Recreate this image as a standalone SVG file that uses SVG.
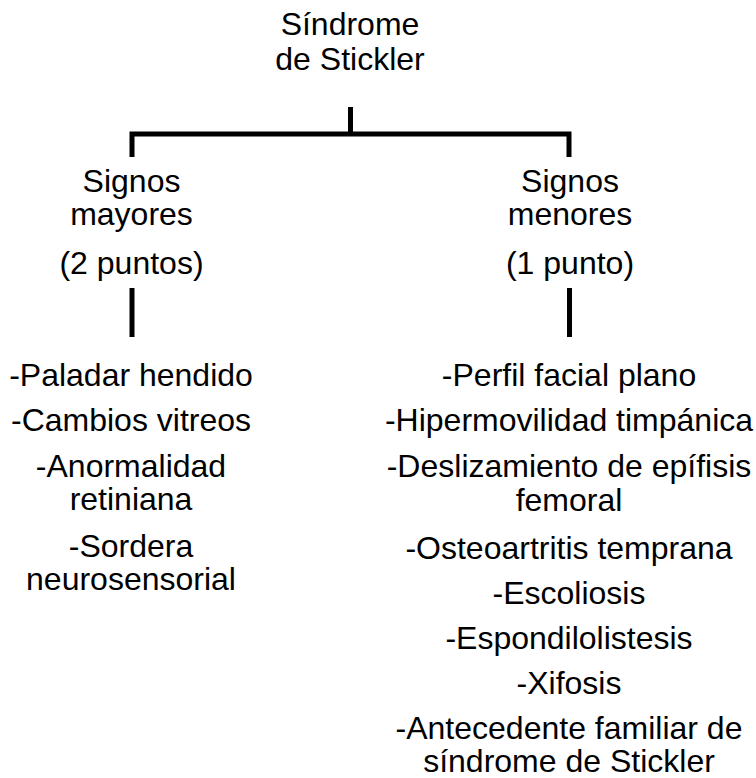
<svg xmlns="http://www.w3.org/2000/svg" width="756" height="778" viewBox="0 0 756 778">
<style>
text{font-family:"Liberation Sans",Arial,sans-serif;font-size:32px;fill:#000;text-anchor:middle}
.c{fill:none;stroke:#000;stroke-width:5}
</style>
<rect width="756" height="778" fill="#fff"/>
<g id="connectors">
<path class="c" d="M350.5 107V134"/>
<path class="c" d="M132 157V134H569V157"/>
<path class="c" d="M132 288V337"/>
<path class="c" d="M569.5 288V337"/>
</g>
<g id="root">
<text x="350" y="35">Síndrome<tspan x="350" dy="35">de Stickler</tspan></text>
</g>
<g id="mayores">
<text x="131.5" y="192">Signos<tspan x="131.5" dy="33">mayores</tspan></text>
<text x="131.5" y="274">(2 puntos)</text>
</g>
<g id="menores">
<text x="570" y="192">Signos<tspan x="570" dy="33">menores</tspan></text>
<text x="570" y="274">(1 punto)</text>
</g>
<g id="lista-mayores">
<text x="131" y="386">-Paladar hendido</text>
<text x="131" y="431">-Cambios vitreos</text>
<text x="131" y="477">-Anormalidad<tspan x="131" dy="33">retiniana</tspan></text>
<text x="131" y="557">-Sordera<tspan x="131" dy="33">neurosensorial</tspan></text>
</g>
<g id="lista-menores">
<text x="569" y="386">-Perfil facial plano</text>
<text x="569" y="431">-Hipermovilidad timpánica</text>
<text x="569" y="477">-Deslizamiento de epífisis<tspan x="569" dy="34">femoral</tspan></text>
<text x="569" y="559">-Osteoartritis temprana</text>
<text x="569" y="604">-Escoliosis</text>
<text x="569" y="649">-Espondilolistesis</text>
<text x="569" y="694">-Xifosis</text>
<text x="569" y="739">-Antecedente familiar de<tspan x="569" dy="33">síndrome de Stickler</tspan></text>
</g>
</svg>
